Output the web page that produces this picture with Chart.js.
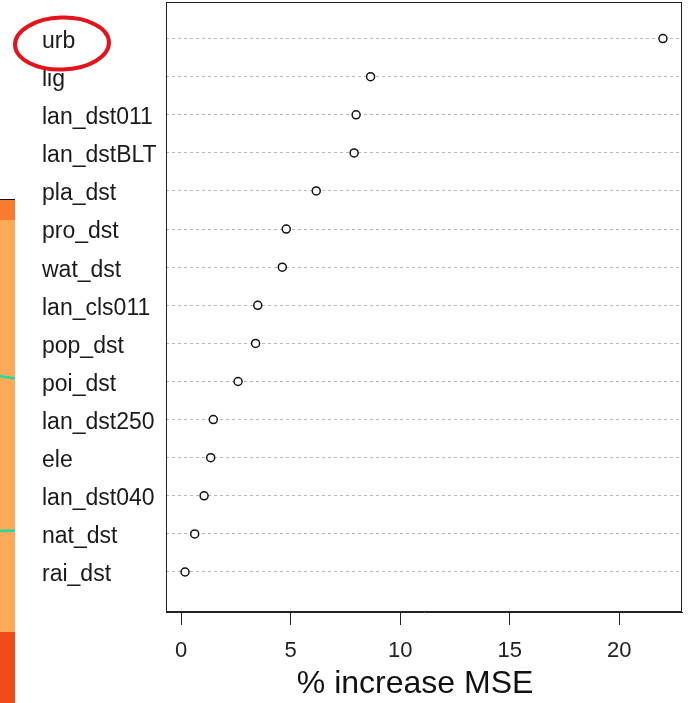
<!DOCTYPE html>
<html>
<head>
<meta charset="utf-8">
<script src="https://cdn.jsdelivr.net/npm/chart.js@4.4.1/dist/chart.umd.min.js"></script>
<style>
  html, body { margin: 0; padding: 0; background: #fff; }
  #wrap { width: 689px; height: 703px; }
</style>
</head>
<body>
<div id="wrap"><canvas id="chart" width="689" height="703"></canvas></div>
<script>
// variables du dotchart, de haut en bas
const varNames = ['urb', 'lig', 'lan_dst011', 'lan_dstBLT', 'pla_dst', 'pro_dst', 'wat_dst',
  'lan_cls011', 'pop_dst', 'poi_dst', 'lan_dst250', 'ele', 'lan_dst040', 'nat_dst', 'rai_dst'];
// % increase MSE
const incMSE = [22.0, 8.65, 7.99, 7.90, 6.17, 4.80, 4.62, 3.50, 3.40, 2.60, 1.47, 1.35, 1.05, 0.62, 0.18];
const xTicks = [0, 5, 10, 15, 20];

// rang de chaque variable (urb en haut = n)
const n = varNames.length;
const rowPos = varNames.map((_, i) => n - i);
const points = incMSE.map((v, i) => ({ x: v, y: rowPos[i] }));

const FONT = '"Liberation Sans", Arial, sans-serif';

// bande orange a gauche (bout d'une autre figure) + cadre + ellipse rouge
const decor = {
  id: 'decor',
  beforeDraw(chart) {
    const c = chart.ctx;
    c.save();
    c.fillStyle = '#f97b32';
    c.fillRect(0, 200, 15, 20);
    c.fillStyle = '#fdaa58';
    c.fillRect(0, 220, 15, 412);
    c.fillStyle = '#ef4b1b';
    c.fillRect(0, 632, 15, 71);
    c.fillStyle = '#111';
    c.fillRect(0, 199, 15, 1);
    c.strokeStyle = '#1fdca5';
    c.lineWidth = 2.5;
    c.beginPath();
    c.moveTo(0, 376); c.lineTo(15, 378.5);
    c.moveTo(0, 531); c.lineTo(15, 530.5);
    c.stroke();
    c.restore();
  },
  afterDraw(chart) {
    const c = chart.ctx;
    const a = chart.chartArea;
    c.save();
    c.strokeStyle = '#222';
    c.lineWidth = 1;
    c.strokeRect(a.left + 0.5, a.top + 0.5, a.right - a.left - 1, a.bottom - a.top - 1);
    // ellipse rouge autour de "urb"
    const yUrb = chart.scales.y.getPixelForValue(rowPos[0]);
    const xLab = chart.scales.y.left;
    c.strokeStyle = '#e3121b';
    c.lineWidth = 4;
    c.beginPath();
    c.ellipse(xLab + 20, yUrb + 5, 47, 26, -0.03, 0, Math.PI * 2);
    c.stroke();
    c.restore();
  }
};

const ctx = document.getElementById('chart').getContext('2d');
const chart = new Chart(ctx, {
  type: 'scatter',
  data: {
    datasets: [{
      data: points,
      pointStyle: 'circle',
      pointRadius: 4,
      pointHoverRadius: 4,
      pointBorderWidth: 1.5,
      pointBackgroundColor: '#fff',
      pointBorderColor: '#111',
      showLine: false
    }]
  },
  options: {
    responsive: false,
    animation: false,
    layout: { autoPadding: false, padding: { left: 42, top: 2, right: 7, bottom: 0 } },
    plugins: { legend: { display: false }, tooltip: { enabled: false } },
    scales: {
      x: {
        type: 'linear',
        min: -0.69,
        max: 22.87,
        afterBuildTicks: s => { s.ticks = xTicks.map(v => ({ value: v })); },
        afterFit: s => { s.height = 91; s.paddingLeft = 0; s.paddingRight = 0; },
        grid: { drawOnChartArea: false, drawTicks: true, tickLength: 13, color: '#222', lineWidth: 1 },
        border: { display: true, color: '#222', width: 1 },
        ticks: { padding: 13, color: '#222', font: { family: FONT, size: 22 } },
        title: {
          display: true,
          text: '% increase MSE  ',
          color: '#111',
          font: { family: FONT, size: 32 },
          padding: { top: 0, bottom: 0 }
        }
      },
      y: {
        type: 'linear',
        min: -0.05,
        max: 15.96,
        afterBuildTicks: s => { s.ticks = rowPos.map(v => ({ value: v })); },
        afterFit: s => { s.width = 124; s.paddingTop = 0; s.paddingBottom = 0; },
        grid: { drawTicks: false, color: '#b8b8b8', lineWidth: 1 },
        border: { display: false, dash: [3, 3] },
        ticks: {
          crossAlign: 'far',
          padding: 0,
          labelOffset: 3,
          color: '#1a1a1a',
          font: { family: FONT, size: 23 },
          callback: v => varNames[n - v]
        }
      }
    }
  },
  plugins: [decor]
});
</script>
</body>
</html>
